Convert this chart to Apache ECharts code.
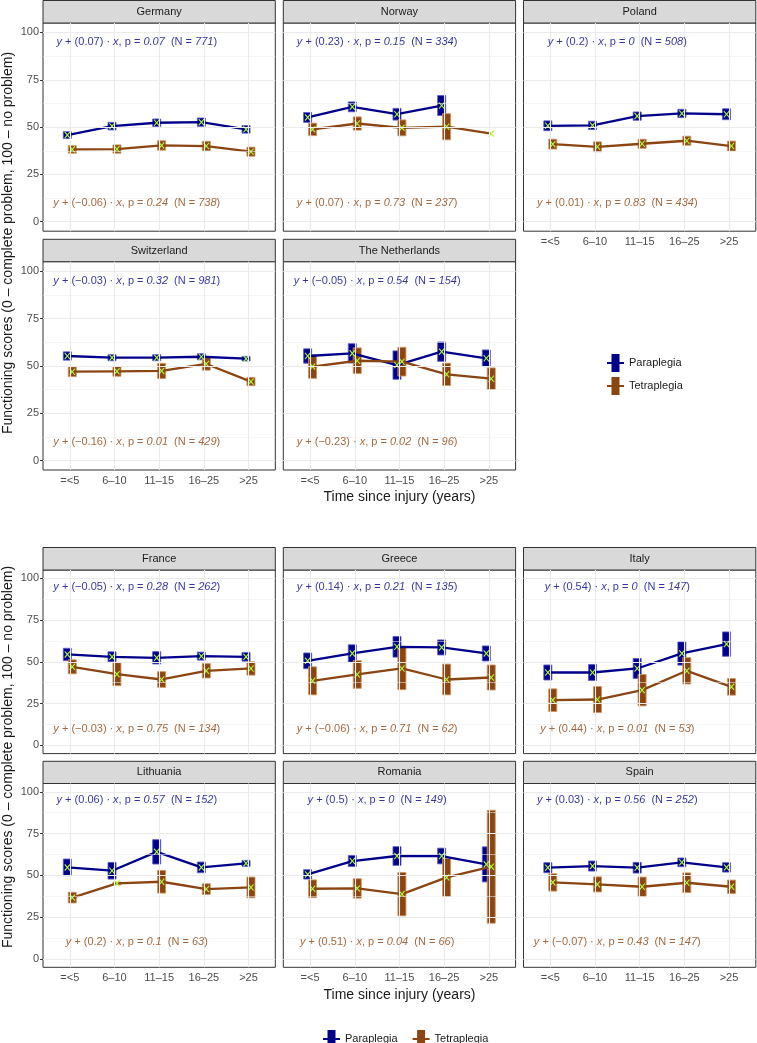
<!DOCTYPE html>
<html><head><meta charset="utf-8">
<script src="https://cdn.jsdelivr.net/npm/echarts@6/dist/echarts.min.js"></script>
<style>html,body{margin:0;padding:0;background:#fff}#c{width:757px;height:1043px}</style>
</head><body><div id="c"></div><script>
// ---------- DATA ----------
const categories = ['=<5', '6–10', '11–15', '16–25', '>25'];
const yTicks = [0, 25, 50, 75, 100];

const germany_para = [45.8, 50.5, 52.3, 52.6, 48.8];
const germany_para_se = [1.8, 2.0, 2.0, 2.2, 2.0];
const germany_tetra = [38.2, 38.4, 40.3, 40.0, 37.0];
const germany_tetra_se = [2.0, 2.2, 2.5, 2.5, 2.4];
const germany_stats = [['0.07', '0.07', '771'], ['−0.06', '0.24', '738']];

const norway_para = [55.1, 60.7, 56.8, 61.4, null];
const norway_para_se = [2.6, 2.6, 3.1, 5.3, 0];
const norway_tetra = [48.8, 51.9, 49.6, 50.2, 46.6];
const norway_tetra_se = [3.3, 3.5, 4.2, 6.9, 0];
const norway_stats = [['0.23', '0.15', '334'], ['0.07', '0.73', '237']];

const poland_para = [50.7, 50.9, 55.8, 57.2, 56.8];
const poland_para_se = [2.6, 2.2, 2.2, 2.2, 2.9];
const poland_tetra = [41.0, 39.6, 41.2, 42.8, 40.0];
const poland_tetra_se = [2.6, 2.6, 2.4, 2.4, 2.6];
const poland_stats = [['0.2', '0', '508'], ['0.01', '0.83', '434']];

const switzerland_para = [55.2, 54.3, 54.3, 54.8, 53.8];
const switzerland_para_se = [2.2, 1.6, 1.6, 1.6, 1.2];
const switzerland_tetra = [46.9, 47.1, 47.3, 51.0, 41.7];
const switzerland_tetra_se = [2.6, 2.6, 4.0, 3.3, 2.2];
const switzerland_stats = [['−0.03', '0.32', '981'], ['−0.16', '0.01', '429']];

const netherlands_para = [55.2, 56.6, 50.4, 57.5, 54.0];
const netherlands_para_se = [3.8, 5.1, 7.5, 5.1, 4.4];
const netherlands_tetra = [49.6, 52.7, 52.2, 45.5, 43.2];
const netherlands_tetra_se = [6.2, 6.8, 7.6, 5.9, 5.7];
const netherlands_stats = [['−0.05', '0.54', '154'], ['−0.23', '0.02', '96']];

const france_para = [54.4, 53.0, 52.4, 53.4, 53.0];
const france_para_se = [3.7, 3.0, 3.7, 2.4, 2.6];
const france_tetra = [47.0, 42.6, 39.4, 44.6, 46.0];
const france_tetra_se = [4.2, 6.9, 4.7, 4.3, 4.0];
const france_stats = [['−0.05', '0.28', '262'], ['−0.03', '0.75', '134']];

const greece_para = [50.6, 55.0, 59.0, 58.6, 55.0];
const greece_para_se = [4.7, 5.2, 6.2, 4.5, 4.5];
const greece_tetra = [38.6, 42.4, 46.0, 39.4, 40.6];
const greece_tetra_se = [8.4, 8.3, 12.7, 9.2, 7.5];
const greece_stats = [['0.14', '0.21', '135'], ['−0.06', '0.71', '62']];

const italy_para = [43.6, 43.6, 46.0, 55.0, 60.6];
const italy_para_se = [4.5, 4.8, 6.0, 7.0, 7.3];
const italy_tetra = [27.0, 27.4, 33.0, 44.6, 35.0];
const italy_tetra_se = [6.8, 7.8, 9.4, 7.9, 5.0];
const italy_stats = [['0.54', '0', '147'], ['0.44', '0.01', '53']];

const lithuania_para = [54.8, 52.8, 64.1, 54.8, 57.2];
const lithuania_para_se = [5.0, 5.0, 7.3, 3.2, 1.8];
const lithuania_tetra = [36.7, 45.2, 46.2, 41.8, 42.8];
const lithuania_tetra_se = [3.2, 0.8, 6.8, 3.2, 6.2];
const lithuania_stats = [['0.06', '0.57', '152'], ['0.2', '0.1', '63']];

const romania_para = [50.6, 58.6, 61.6, 61.6, 56.6];
const romania_para_se = [2.8, 3.3, 5.6, 4.7, 10.5];
const romania_tetra = [42.0, 42.2, 38.8, 48.8, 55.2];
const romania_tetra_se = [5.3, 5.8, 13.0, 11.4, 33.8];
const romania_stats = [['0.5', '0', '149'], ['0.51', '0.04', '66']];

const spain_para = [54.6, 55.6, 54.6, 57.8, 54.8];
const spain_para_se = [3.0, 3.0, 3.2, 2.6, 2.8];
const spain_tetra = [45.8, 44.6, 43.2, 45.6, 43.2];
const spain_tetra_se = [5.2, 4.5, 5.8, 5.9, 4.0];
const spain_stats = [['0.03', '0.56', '252'], ['−0.07', '0.43', '147']];

// ---------- STYLE / LAYOUT ----------
const FONT = "'Liberation Sans', Arial, Helvetica, sans-serif";
const PARA_COL = '#00008B', TETRA_COL = '#8B4513';
const PARA_EDGE = 'rgba(90,90,210,0.85)', TETRA_EDGE = 'rgba(205,150,95,0.85)';
const MARK_COL = '#ADFF2F';
const DODGE = 0.055, HALF_W = 0.09;

const colLeft = [43, 283.3, 523.5];
const colW = 232.3;
const rowsTop = [{ strip: 0.5, top: 23, h: 208.2 }, { strip: 239.3, top: 261.7, h: 208.3 }];
const rowsBot = [{ strip: 547.5, top: 570, h: 183.6 }, { strip: 761.3, top: 783.5, h: 183.8 }];

const panels = [
  { name: 'Germany', row: rowsTop[0], col: 0, showX: false, showY: true, p: germany_para, ps: germany_para_se, t: germany_tetra, ts: germany_tetra_se, s: germany_stats },
  { name: 'Norway', row: rowsTop[0], col: 1, showX: false, showY: false, p: norway_para, ps: norway_para_se, t: norway_tetra, ts: norway_tetra_se, s: norway_stats },
  { name: 'Poland', row: rowsTop[0], col: 2, showX: true, showY: false, p: poland_para, ps: poland_para_se, t: poland_tetra, ts: poland_tetra_se, s: poland_stats },
  { name: 'Switzerland', row: rowsTop[1], col: 0, showX: true, showY: true, p: switzerland_para, ps: switzerland_para_se, t: switzerland_tetra, ts: switzerland_tetra_se, s: switzerland_stats },
  { name: 'The Netherlands', row: rowsTop[1], col: 1, showX: true, showY: false, p: netherlands_para, ps: netherlands_para_se, t: netherlands_tetra, ts: netherlands_tetra_se, s: netherlands_stats },
  { name: 'France', row: rowsBot[0], col: 0, showX: false, showY: true, p: france_para, ps: france_para_se, t: france_tetra, ts: france_tetra_se, s: france_stats },
  { name: 'Greece', row: rowsBot[0], col: 1, showX: false, showY: false, p: greece_para, ps: greece_para_se, t: greece_tetra, ts: greece_tetra_se, s: greece_stats },
  { name: 'Italy', row: rowsBot[0], col: 2, showX: false, showY: false, p: italy_para, ps: italy_para_se, t: italy_tetra, ts: italy_tetra_se, s: italy_stats },
  { name: 'Lithuania', row: rowsBot[1], col: 0, showX: true, showY: true, p: lithuania_para, ps: lithuania_para_se, t: lithuania_tetra, ts: lithuania_tetra_se, s: lithuania_stats },
  { name: 'Romania', row: rowsBot[1], col: 1, showX: true, showY: false, p: romania_para, ps: romania_para_se, t: romania_tetra, ts: romania_tetra_se, s: romania_stats },
  { name: 'Spain', row: rowsBot[1], col: 2, showX: true, showY: false, p: spain_para, ps: spain_para_se, t: spain_tetra, ts: spain_tetra_se, s: spain_stats }
];

function annText(s) {
  return '{i|y} + (' + s[0] + ') · {i|x}, p = {i|' + s[1] + '}  (N = {i|' + s[2] + '})';
}

const grids = [], xAxes = [], yAxes = [], series = [], graphics = [];

const gridLineData = [];
[0, 25, 50, 75, 100].forEach(v => gridLineData.push({ yAxis: v, lineStyle: { type: 'solid', width: 1.1, color: '#EBEBEB' } }));
[12.5, 37.5, 62.5, 87.5].forEach(v => gridLineData.push({ yAxis: v, lineStyle: { type: 'solid', width: 0.55, color: '#EEEEEE' } }));
[1, 2, 3, 4, 5].forEach(v => gridLineData.push({ xAxis: v, lineStyle: { type: 'solid', width: 1.1, color: '#EBEBEB' } }));

function rectSeries(i, name, means, ses, offset, fill, edge) {
  const data = [];
  means.forEach((m, k) => {
    if (m !== null && ses[k] > 0) data.push([k + 1 + offset, m - ses[k], m + ses[k]]);
  });
  return {
    type: 'custom', name: name, xAxisIndex: i, yAxisIndex: i, z: 2, silent: true,
    itemStyle: { color: fill },
    encode: { x: 0, y: [1, 2] },
    data: data,
    renderItem: function (params, api) {
      const x = api.value(0), lo = api.value(1), hi = api.value(2);
      const a = api.coord([x - HALF_W, hi]);
      const b = api.coord([x + HALF_W, lo]);
      return { type: 'rect', shape: { x: a[0], y: a[1], width: b[0] - a[0], height: b[1] - a[1] },
        style: { fill: fill, stroke: edge, lineWidth: 1 } };
    }
  };
}
function lineSeries(i, name, means, offset, color) {
  return {
    type: 'line', name: name, xAxisIndex: i, yAxisIndex: i, z: 3, silent: true,
    symbol: 'none', connectNulls: false,
    lineStyle: { color: color, width: 2.3 }, itemStyle: { color: color },
    data: means.map((m, k) => [k + 1 + offset, m])
  };
}
const X_PATH = 'path://M0,1.2 L1.2,0 L5,3.8 L8.8,0 L10,1.2 L6.2,5 L10,8.8 L8.8,10 L5,6.2 L1.2,10 L0,8.8 L3.8,5 Z';
function markSeries(i, name, means, offset) {
  return {
    type: 'scatter', name: name, xAxisIndex: i, yAxisIndex: i, z: 4, silent: true,
    symbol: X_PATH, symbolSize: [6, 7], itemStyle: { color: MARK_COL, opacity: 1 },
    data: means.map((m, k) => m === null ? null : [k + 1 + offset, m]).filter(d => d)
  };
}

panels.forEach((P, i) => {
  const left = colLeft[P.col];
  grids.push({ left: left, top: P.row.top, width: colW, height: P.row.h, show: true,
    backgroundColor: '#ffffff', borderColor: '#333333', borderWidth: 1 });
  xAxes.push({
    gridIndex: i, type: 'value', min: 0.4, max: 5.6,
    axisLine: { show: false }, splitLine: { show: false },
    axisTick: { show: P.showX, customValues: [1, 2, 3, 4, 5], length: 3, lineStyle: { color: '#333333' } },
    axisLabel: { show: P.showX, customValues: [1, 2, 3, 4, 5], formatter: v => categories[Math.round(v) - 1],
      fontSize: 11, color: '#4D4D4D', margin: 5, fontFamily: FONT }
  });
  yAxes.push({
    gridIndex: i, type: 'value', min: -5, max: 105,
    axisLine: { show: false }, splitLine: { show: false },
    axisTick: { show: P.showY, customValues: yTicks, length: 3, lineStyle: { color: '#333333' } },
    axisLabel: { show: P.showY, customValues: yTicks, fontSize: 11, color: '#4D4D4D', margin: 4, fontFamily: FONT }
  });
  // grid lines
  series.push({ type: 'line', xAxisIndex: i, yAxisIndex: i, data: [], z: 1, silent: true,
    markLine: { silent: true, symbol: ['none', 'none'], label: { show: false }, animation: false,
      lineStyle: { type: 'solid' }, data: gridLineData } });
  series.push(rectSeries(i, 'Paraplegia', P.p, P.ps, -DODGE, PARA_COL, PARA_EDGE));
  series.push(rectSeries(i, 'Tetraplegia', P.t, P.ts, DODGE, TETRA_COL, TETRA_EDGE));
  series.push(lineSeries(i, 'Paraplegia', P.p, -DODGE, PARA_COL));
  series.push(lineSeries(i, 'Tetraplegia', P.t, DODGE, TETRA_COL));
  series.push(markSeries(i, 'Paraplegia', P.p, -DODGE));
  series.push(markSeries(i, 'Tetraplegia', P.t, DODGE));
  // annotations
  [[0, 95, PARA_COL], [1, 10, TETRA_COL]].forEach(([k, yv, col]) => {
    series.push({
      type: 'scatter', xAxisIndex: i, yAxisIndex: i, z: 5, silent: true, symbolSize: 0,
      data: [[2.5, yv]],
      label: { show: true, position: 'inside', formatter: annText(P.s[k]), color: col, fontSize: 11, fontFamily: FONT,
        rich: { i: { fontStyle: 'italic', color: col, fontSize: 11, fontFamily: FONT } } }
    });
  });
  // strip
  graphics.push({ type: 'rect', silent: true, shape: { x: left, y: P.row.strip, width: colW, height: P.row.top - P.row.strip },
    style: { fill: '#D9D9D9', stroke: '#333333', lineWidth: 1 } });
  graphics.push({ type: 'text', silent: true, x: left + colW / 2, y: (P.row.strip + P.row.top) / 2,
    style: { text: P.name, font: '11px ' + FONT, fill: '#1A1A1A', align: 'center', verticalAlign: 'middle' } });
});

// axis titles
const yTitle = 'Functioning scores (0 – complete problem, 100 – no problem)';
graphics.push({ type: 'text', silent: true, x: 8, y: 243, rotation: Math.PI / 2,
  style: { text: yTitle, font: '14px ' + FONT, fill: '#1A1A1A', align: 'center', verticalAlign: 'middle' } });
graphics.push({ type: 'text', silent: true, x: 8, y: 757, rotation: Math.PI / 2,
  style: { text: yTitle, font: '14px ' + FONT, fill: '#1A1A1A', align: 'center', verticalAlign: 'middle' } });
const xTitle = 'Time since injury (years)';
graphics.push({ type: 'text', silent: true, x: 399.5, y: 497,
  style: { text: xTitle, font: '14px ' + FONT, fill: '#1A1A1A', align: 'center', verticalAlign: 'middle' } });
graphics.push({ type: 'text', silent: true, x: 399.5, y: 995,
  style: { text: xTitle, font: '14px ' + FONT, fill: '#1A1A1A', align: 'center', verticalAlign: 'middle' } });

const LEG_ICON = 'path://M4.5,0 L12.5,0 L12.5,18 L4.5,18 Z M0,8 L17,8 L17,10 L0,10 Z';
const legendData = [
  { name: 'Paraplegia', itemStyle: { color: PARA_COL } },
  { name: 'Tetraplegia', itemStyle: { color: TETRA_COL } }
];
const chart = echarts.init(document.getElementById('c'), null, { renderer: 'canvas' });
chart.setOption({
  animation: false,
  backgroundColor: '#ffffff',
  textStyle: { fontFamily: FONT },
  grid: grids, xAxis: xAxes, yAxis: yAxes, series: series, graphic: graphics,
  legend: [
    { data: legendData, orient: 'vertical', left: 602, top: 349, itemWidth: 17, itemHeight: 18, itemGap: 5,
      icon: LEG_ICON, selectedMode: false, textStyle: { fontSize: 11, color: '#1A1A1A', fontFamily: FONT } },
    { data: legendData, orient: 'horizontal', left: 318, top: 1025, itemWidth: 17, itemHeight: 18, itemGap: 15,
      icon: LEG_ICON, selectedMode: false, textStyle: { fontSize: 11, color: '#1A1A1A', fontFamily: FONT } }
  ]
});
</script></body></html>
